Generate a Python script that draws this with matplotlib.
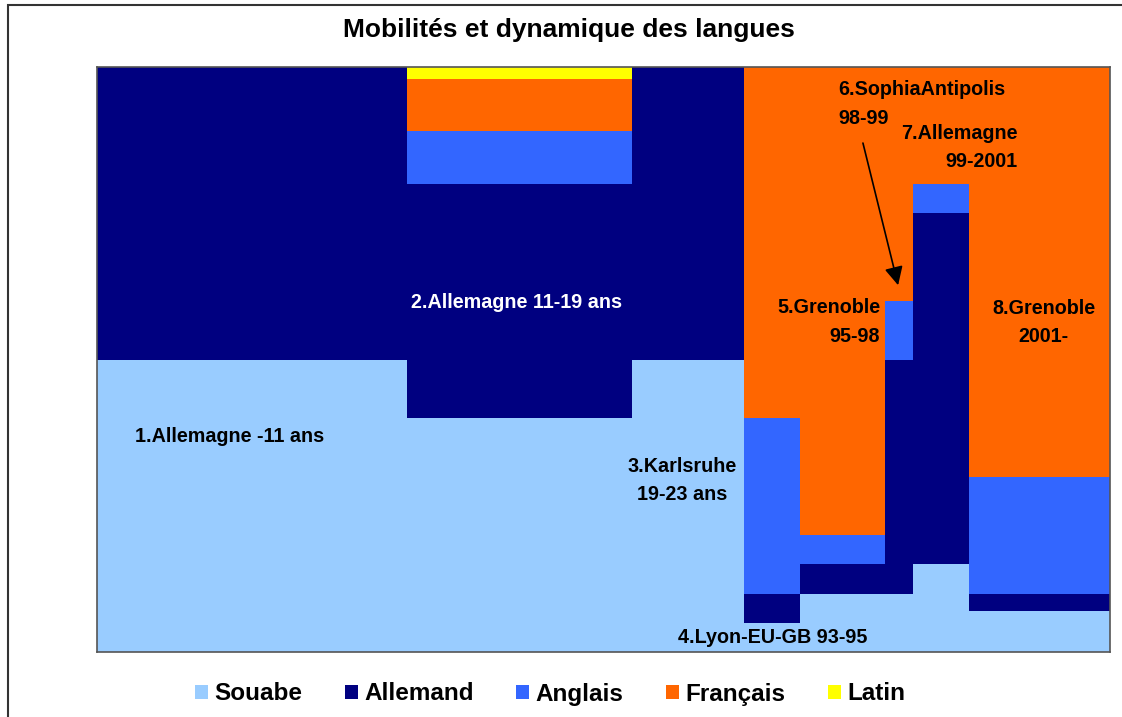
import numpy as np
import matplotlib
matplotlib.use("Agg")
import matplotlib.pyplot as plt
from matplotlib.patches import Patch, Rectangle

plt.rcParams["font.family"] = ["Liberation Sans", "DejaVu Sans"]
plt.rcParams["font.weight"] = "bold"

# period widths (years) and language shares (%) per period
periods = ["1.Allemagne -11 ans", "2.Allemagne 11-19 ans", "3.Karlsruhe 19-23 ans",
           "4.Lyon-EU-GB 93-95", "5.Grenoble 95-98", "6.SophiaAntipolis 98-99",
           "7.Allemagne 99-2001", "8.Grenoble 2001-"]
widths = [11, 8, 4, 2, 3, 1, 2, 5]
souabe = [50, 40, 50, 5, 10, 10, 15, 7]
allemand = [50, 40, 50, 5, 5, 40, 60, 3]
anglais = [0, 9, 0, 30, 5, 10, 5, 20]
francais = [0, 9, 0, 60, 80, 40, 20, 70]
latin = [0, 2, 0, 0, 0, 0, 0, 0]

langues = ["Souabe", "Allemand", "Anglais", "Français", "Latin"]
couleurs = ["#99CCFF", "#000080", "#3366FF", "#FF6600", "#FFFF00"]
series = [souabe, allemand, anglais, francais, latin]

fig = plt.figure(figsize=(11.22, 7.17), dpi=100)
ax = fig.add_axes([97 / 1122, 65 / 717, 1013 / 1122, 585 / 717])

lefts = np.concatenate([[0], np.cumsum(widths)[:-1]])
bottom = np.zeros(len(widths))
for vals, col in zip(series, couleurs):
    ax.bar(lefts, vals, width=widths, bottom=bottom, align="edge",
           color=col, edgecolor="none", linewidth=0)
    bottom += np.array(vals)

ax.set_xlim(0, sum(widths))
ax.set_ylim(0, 100)
ax.set_xticks([])
ax.set_yticks([])
for s in ax.spines.values():
    s.set_color("#555555")
    s.set_linewidth(1.2)

fs = 14.2
ls = 1.63
ax.text(1.35, 36.8, "1.Allemagne -11 ans", ha="left", va="center", fontsize=fs)
ax.text(14.9, 59.8, "2.Allemagne 11-19 ans", ha="center", va="center",
        fontsize=fs, color="white")
ax.text(20.8, 29.3, "3.Karlsruhe\n19-23 ans", ha="center", va="center",
        fontsize=fs, multialignment="center", linespacing=ls)
ax.text(24.0, 2.4, "4.Lyon-EU-GB 93-95", ha="center", va="center", fontsize=fs)
ax.text(27.83, 56.4, "5.Grenoble\n95-98", ha="right", va="center",
        fontsize=fs, multialignment="right", linespacing=ls)
ax.text(26.35, 93.7, "6.SophiaAntipolis\n98-99", ha="left", va="center",
        fontsize=fs, multialignment="left", linespacing=ls)
ax.text(32.7, 86.2, "7.Allemagne\n99-2001", ha="right", va="center",
        fontsize=fs, multialignment="right", linespacing=ls)
ax.text(33.65, 56.3, "8.Grenoble\n2001-", ha="center", va="center",
        fontsize=fs, multialignment="center", linespacing=ls)
ax.annotate("", xy=(28.47, 62.7), xytext=(27.22, 87.0),
            arrowprops=dict(arrowstyle="-|>", color="black", lw=1.2,
                            mutation_scale=28, shrinkA=0, shrinkB=0))

fig.text(569 / 1122, 1 - 30 / 717, "Mobilités et dynamique des langues",
         ha="center", va="center", fontsize=19)

# outer chart frame
fig.patches.append(Rectangle((8 / 1122, -0.1), 1.2, 1.1 - 5 / 717,
                             transform=fig.transFigure, fill=False,
                             edgecolor="#333333", linewidth=1.5))

handles = [Patch(facecolor=c, edgecolor="none") for c in couleurs]
fig.legend(handles, langues, loc="center", bbox_to_anchor=(550 / 1122, 1 - 694 / 717),
           ncol=5, frameon=False, fontsize=17.5, handlelength=0.55,
           handleheight=0.55, handletextpad=0.25, columnspacing=1.75)

fig.savefig("out.png", dpi=100)
